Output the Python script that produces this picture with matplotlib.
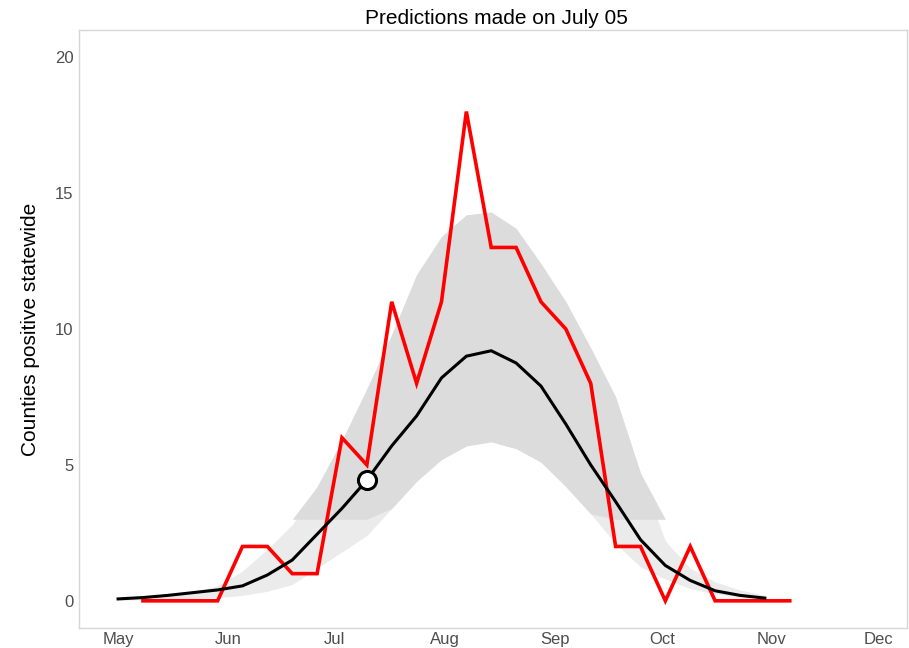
import numpy as np
import matplotlib
matplotlib.use("Agg")
import matplotlib.pyplot as plt

plt.rcParams["font.family"] = ["Liberation Sans", "DejaVu Sans"]

# weekly model output (median and interval) starting May 1
model_start = np.datetime64("2020-05-01")
model_median = [0.07, 0.12, 0.2, 0.3, 0.4, 0.55, 0.95, 1.5, 2.45, 3.4, 4.44, 5.7, 6.8, 8.2,
                9.0, 9.2, 8.75, 7.9, 6.5, 5.0, 3.65, 2.25, 1.3, 0.75, 0.37, 0.2, 0.1]
model_upper = [0.1, 0.15, 0.25, 0.35, 0.55, 1.1, 1.9, 2.8, 4.2, 5.9, 7.8, 9.8, 12.0, 13.4,
               14.2, 14.3, 13.7, 12.4, 11.0, 9.3, 7.5, 4.7, 2.2, 1.2, 0.7, 0.4, 0.2]
model_lower = [0.02, 0.04, 0.06, 0.08, 0.12, 0.2, 0.35, 0.6, 1.2, 1.8, 2.4, 3.4, 4.4, 5.2,
               5.7, 5.85, 5.6, 5.1, 4.2, 3.2, 2.1, 1.25, 0.8, 0.45, 0.25, 0.12, 0.06]

# observed counties positive, weekly starting May 8
obs_start = np.datetime64("2020-05-08")
observed = [0, 0, 0, 0, 2, 2, 1, 1, 6, 5, 11, 8, 11, 18, 13, 13, 11, 10, 8, 2, 2, 0, 2, 0, 0, 0, 0]

# week the prediction was made
pred_week = 10

months = ["May", "Jun", "Jul", "Aug", "Sep", "Oct", "Nov", "Dec"]
month_dates = np.arange(np.datetime64("2020-05"), np.datetime64("2021-01")).astype("datetime64[D]")

model_x = model_start + np.arange(len(model_median)) * np.timedelta64(7, "D")
obs_x = obs_start + np.arange(len(observed)) * np.timedelta64(7, "D")
med = np.array(model_median)
hi = np.array(model_upper)
lo = np.array(model_lower)

fig = plt.figure(figsize=(9.09, 6.48), dpi=100)
ax = fig.add_axes([79 / 909, 20 / 648, 828 / 909, 598 / 648])

# interval: lighter below 3, darker above
ax.fill_between(model_x, lo, hi, color="#ebebeb", linewidth=0, zorder=1)
ax.fill_between(model_x, np.maximum(lo, 3), np.maximum(hi, 3), color="#dcdcdc", linewidth=0, zorder=1)
ax.plot(model_x, med, color="black", lw=2.2, zorder=3, solid_joinstyle="miter")
ax.plot(obs_x, observed, color="#ff0000", lw=2.6, zorder=2, solid_joinstyle="miter")
ax.plot(model_x[pred_week], med[pred_week], "o", ms=13, mfc="white", mec="black", mew=2.2, zorder=4)

ax.set_xlim(np.datetime64("2020-04-20"), np.datetime64("2020-12-09"))
ax.set_ylim(-1, 21)
ax.set_xticks(month_dates)
ax.set_xticklabels(months)
ax.set_yticks([0, 5, 10, 15, 20])
ax.tick_params(length=0, labelsize=12, labelcolor="#4d4d4d", pad=4)
ax.tick_params(axis="x", pad=3)
for s in ax.spines.values():
    s.set_color("#d6d6d6")
    s.set_linewidth(1.0)

ax.set_ylabel("Counties positive statewide", fontsize=15, labelpad=11)
fig.text(496 / 909, 1 - 19 / 648, "Predictions made on July 05", ha="center", va="center", fontsize=15)

fig.savefig("out.png", dpi=100)
